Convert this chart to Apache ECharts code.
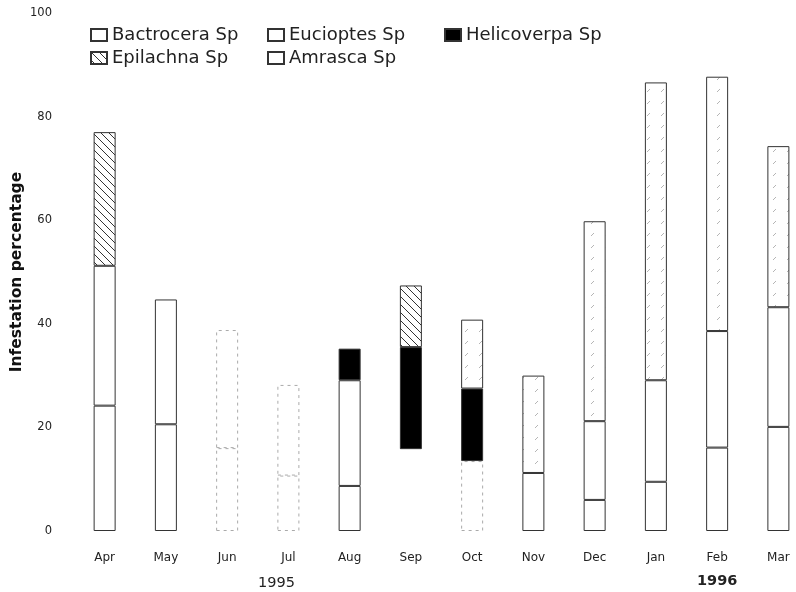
<!DOCTYPE html>
<html>
<head>
<meta charset="utf-8">
<script src="https://cdn.jsdelivr.net/npm/echarts@6/dist/echarts.min.js"></script>
<style>
  html, body { margin: 0; padding: 0; background: #fff; }
  #chart { width: 796px; height: 592px; }
</style>
</head>
<body>
<div id="chart"></div>
<script>
// Monthly infestation (%) by pest genus, Apr 1995 - Mar 1996
const months = ['Apr', 'May', 'Jun', 'Jul', 'Aug', 'Sep', 'Oct', 'Nov', 'Dec', 'Jan', 'Feb', 'Mar'];
const years = ['1995', '1996'];
const seriesNames = ['Bactrocera Sp', 'Eucioptes Sp', 'Helicoverpa Sp', 'Epilachna Sp', 'Amrasca Sp'];

const bactrocera  = [24.2, 20.6, 16.0, 10.7, 8.7, null, null, 11.2, 6.0, 9.5, 16.1, 20.1];
const eucioptes   = [27.0, 24.1, 22.8, 17.5, 20.4, 15.8, 13.5, null, 15.2, 19.6, 22.5, 23.1];
const helicoverpa = [null, null, null, null, 6.1, 19.7, 14.0, null, null, null, null, null];
const epilachna   = [25.8, null, null, null, null, 11.9, null, null, null, null, null, null];
const amrasca     = [null, null, null, null, null, null, 13.3, 18.8, 38.6, 57.5, 49.1, 31.1];

// Segments whose outline is printed weakly
const weakOutline = {
  'Bactrocera Sp': { 2: 'faint', 3: 'faint' },
  'Eucioptes Sp': { 2: 'faint', 3: 'faint', 5: 'none', 6: 'faint' }
};

// Diagonal "\" hatching
function hatchPattern() {
  const c = document.createElement('canvas');
  c.width = 8; c.height = 8;
  const g = c.getContext('2d');
  g.fillStyle = '#fff';
  g.fillRect(0, 0, 8, 8);
  g.strokeStyle = '#333';
  g.lineWidth = 1;
  g.beginPath();
  g.moveTo(-1, -1); g.lineTo(9, 9);
  g.moveTo(-1, 7); g.lineTo(1, 9);
  g.moveTo(7, -1); g.lineTo(9, 1);
  g.stroke();
  return c;
}

// Sparse light "/" ticks
function tickPattern() {
  const c = document.createElement('canvas');
  c.width = 14; c.height = 12;
  const g = c.getContext('2d');
  g.fillStyle = '#fff';
  g.fillRect(0, 0, 14, 12);
  g.strokeStyle = 'rgba(90,90,90,0.45)';
  g.lineWidth = 1;
  g.beginPath();
  g.moveTo(3, 8); g.lineTo(6, 5);
  g.stroke();
  return c;
}

const baseStyle = { color: '#fff', borderColor: '#333', borderWidth: 1 };
const fills = [
  '#fff',
  '#fff',
  '#000',
  { image: hatchPattern(), repeat: 'repeat' },
  { image: tickPattern(), repeat: 'repeat' }
];
const values = [bactrocera, eucioptes, helicoverpa, epilachna, amrasca];

function buildData(name, arr) {
  const marks = weakOutline[name] || {};
  return arr.map((v, i) => {
    const kind = marks[i];
    if (v == null || !kind) return v;
    if (kind === 'none') return { value: v, itemStyle: { borderColor: 'rgba(0,0,0,0)' } };
    return { value: v, itemStyle: { borderColor: '#aaa', borderType: [3, 4] } };
  });
}

const series = seriesNames.map((name, k) => ({
  name: name,
  type: 'bar',
  stack: 'total',
  barWidth: 22,
  data: buildData(name, values[k]),
  itemStyle: Object.assign({}, baseStyle, { color: fills[k] }),
  emphasis: { disabled: true }
}));

const legendPos = [
  { left: 90, top: 26 },
  { left: 267, top: 26 },
  { left: 444, top: 26 },
  { left: 90, top: 49 },
  { left: 267, top: 49 }
];
const legends = seriesNames.map((name, k) => {
  const l = Object.assign({
    data: [name],
    padding: 0,
    itemWidth: 16,
    itemHeight: 12,
    icon: 'rect',
    selectedMode: false,
    textStyle: { fontFamily: 'DejaVu Sans', fontSize: 18, color: '#222' }
  }, legendPos[k]);
  if (k === 4) l.itemStyle = { color: '#fff' };
  return l;
});

const chart = echarts.init(document.getElementById('chart'), null, { renderer: 'canvas' });
chart.setOption({
  animation: false,
  backgroundColor: '#fff',
  grid: { left: 74, top: 13, width: 735, height: 518, containLabel: false, outerBoundsMode: 'none' },
  legend: legends,
  xAxis: {
    type: 'category',
    data: months,
    axisLine: { show: false },
    axisTick: { show: false },
    axisLabel: { margin: 21, fontFamily: 'DejaVu Sans', fontSize: 12, color: '#222' }
  },
  yAxis: {
    type: 'value',
    min: 0,
    max: 100,
    interval: 20,
    axisLine: { show: false },
    axisTick: { show: false },
    splitLine: { show: false },
    axisLabel: { margin: 22, fontFamily: 'DejaVu Sans', fontSize: 11.5, color: '#222' },
    name: 'Infestation percentage',
    nameLocation: 'middle',
    nameRotate: 90,
    nameGap: 49,
    nameMoveOverlap: false,
    nameTextStyle: { fontFamily: 'DejaVu Sans', fontWeight: 'bold', fontSize: 15.5, color: '#111' }
  },
  graphic: [
    { type: 'text', left: 258, top: 576, style: { text: years[0], font: '14.5px "DejaVu Sans"', fill: '#222' } },
    { type: 'text', left: 697, top: 574, style: { text: years[1], font: 'bold 14.5px "DejaVu Sans"', fill: '#222' } }
  ],
  series: series
});
</script>
</body>
</html>
